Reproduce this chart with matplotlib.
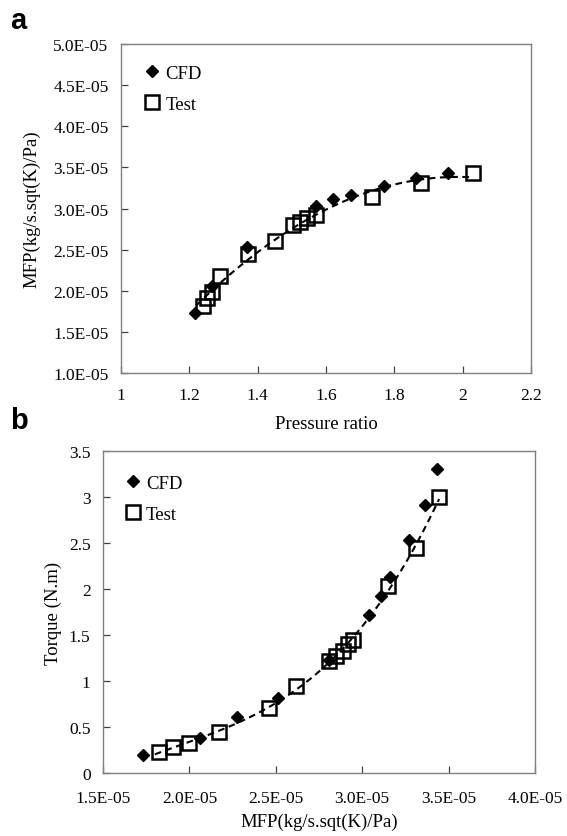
"""Turbine MFP / torque comparison, CFD vs test (two stacked panels)."""

import numpy as np
import matplotlib

matplotlib.use("Agg")
import matplotlib.pyplot as plt
from matplotlib.ticker import FuncFormatter, MultipleLocator

plt.rcParams["font.family"] = ["Liberation Serif", "DejaVu Serif"]

# MFP values are kept in units of 1e-5 kg/s.sqrt(K)/Pa
E = 1e-5

# panel a: pressure ratio vs MFP
pr_cfd = [1.216, 1.265, 1.368, 1.572, 1.621, 1.672, 1.769, 1.863, 1.957]
mfp_cfd_a = [1.73, 2.06, 2.53, 3.03, 3.11, 3.17, 3.27, 3.37, 3.43]
pr_test = [1.241, 1.252, 1.267, 1.289, 1.372, 1.450, 1.504, 1.525, 1.545,
           1.572, 1.736, 1.879, 2.030]
mfp_test_a = [1.82, 1.91, 1.99, 2.18, 2.45, 2.61, 2.80, 2.83, 2.88,
              2.92, 3.14, 3.31, 3.43]

# panel b: torque vs MFP
mfp_cfd_b = [1.733, 2.060, 2.275, 2.512, 2.810, 3.037, 3.108, 3.162,
             3.271, 3.362, 3.431]
torque_cfd = [0.19, 0.38, 0.61, 0.81, 1.23, 1.72, 1.92, 2.13, 2.53, 2.91, 3.30]
mfp_test_b = [1.825, 1.906, 1.996, 2.171, 2.458, 2.618, 2.810, 2.849, 2.891,
              2.915, 2.944, 3.150, 3.314, 3.445]
torque_test = [0.225, 0.283, 0.326, 0.442, 0.707, 0.95, 1.22, 1.27, 1.33,
               1.40, 1.45, 2.03, 2.44, 3.00]

SPINE = "#808080"
DASH = (0, (3.2, 2.2))


def style_axes(ax, pad):
    for sp in ax.spines.values():
        sp.set_color(SPINE)
        sp.set_linewidth(1.0)
    ax.tick_params(direction="in", length=5, width=0.9, color="#404040",
                   labelsize=12.5)
    ax.tick_params(axis="x", pad=pad)
    ax.tick_params(axis="y", pad=9)


def draw_series(ax, xc, yc, xt, yt, xfit, deg, x0, xscale, anchor):
    ax.plot(xc, yc, ls="none", marker="D", ms=6.5, mfc="black", mec="black",
            label="CFD", zorder=3)
    ax.plot(xt, yt, ls="none", marker="s", ms=9.5, mfc="none", mec="black",
            mew=1.8, label="Test", zorder=4)
    # dashed trend line through the test points
    coef = np.polyfit(xfit, yt, deg)
    xs = np.linspace(x0, max(xfit), 200)
    ax.plot(xs * xscale, np.polyval(coef, xs), ls=DASH, color="black", lw=1.5,
            zorder=2)
    ax.legend(loc="upper left", bbox_to_anchor=anchor, frameon=False,
              handletextpad=0.2, handlelength=1.0, borderaxespad=0,
              labelspacing=0.75, prop={"size": 13.5})


fig = plt.figure(figsize=(5.67, 8.37), dpi=100)

# ---- panel a
ax1 = fig.add_axes([0.2134, 0.5532, 0.7231, 0.3930])
draw_series(ax1, pr_cfd, np.array(mfp_cfd_a) * E, pr_test,
            np.array(mfp_test_a) * E, pr_test, 2, 1.22, 1, (0.035, 0.96))
ax1.set_xlim(1, 2.2)
ax1.set_ylim(1e-5, 5e-5)
ax1.xaxis.set_major_locator(MultipleLocator(0.2))
ax1.yaxis.set_major_locator(MultipleLocator(0.5e-5))
ax1.xaxis.set_major_formatter(FuncFormatter(lambda v, p: f"{v:g}"))
ax1.yaxis.set_major_formatter(FuncFormatter(lambda v, p: f"{v:.1E}"))
ax1.set_xlabel("Pressure ratio", fontsize=13.5, labelpad=9)
ax1.set_ylabel("MFP(kg/s.sqt(K)/Pa)", fontsize=13.5, labelpad=9)
style_axes(ax1, 10)

# ---- panel b
ax2 = fig.add_axes([0.1817, 0.0753, 0.7619, 0.3847])
draw_series(ax2, np.array(mfp_cfd_b) * E, torque_cfd, np.array(mfp_test_b) * E,
            torque_test, mfp_test_b, 3, 1.80, E, (0.03, 0.95))
ax2.set_xlim(1.5e-5, 4e-5)
ax2.set_ylim(0, 3.5)
ax2.xaxis.set_major_locator(MultipleLocator(0.5e-5))
ax2.yaxis.set_major_locator(MultipleLocator(0.5))
ax2.xaxis.set_major_formatter(FuncFormatter(lambda v, p: f"{v:.1E}"))
ax2.yaxis.set_major_formatter(FuncFormatter(lambda v, p: f"{v:g}"))
ax2.set_xlabel("MFP(kg/s.sqt(K)/Pa)", fontsize=13.5, labelpad=5)
ax2.set_ylabel("Torque (N.m)", fontsize=13.5, labelpad=5)
style_axes(ax2, 12)

fig.text(0.018, 0.965, "a", family="Liberation Sans", weight="bold", fontsize=21)
fig.text(0.018, 0.487, "b", family="Liberation Sans", weight="bold", fontsize=21)

fig.savefig("out.png", dpi=100)
